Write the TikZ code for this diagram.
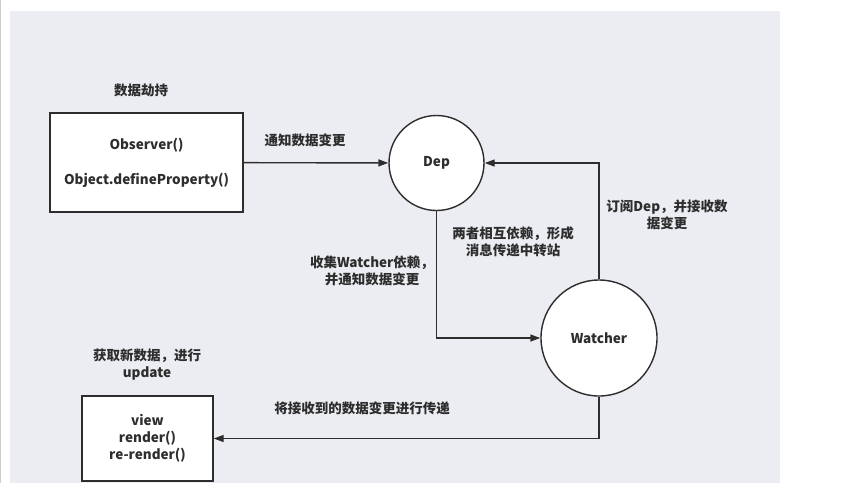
\documentclass[tikz,border=0pt]{standalone}
\usepackage{fontspec}
\usepackage{tikz}
\usetikzlibrary{arrows.meta}
\newfontfamily\cjk{Noto Sans CJK SC}
\definecolor{panelgray}{RGB}{236,237,242}
\definecolor{inkgray}{RGB}{45,45,45}
\tikzset{
    label text/.style={font=\cjk\bfseries\fontsize{13.5}{17}\selectfont, text=inkgray, align=center, inner sep=0pt},
    box/.style={draw=inkgray, line width=1.4pt, fill=white, rectangle, label text},
    bubble/.style={draw=inkgray, line width=1.4pt, fill=white, circle, label text},
    link/.style={draw=inkgray, line width=1.4pt, -{Triangle[length=10pt,width=7pt]}}
}

\begin{document}
\begin{tikzpicture}[x=1pt, y=-1pt]
    % Canvas and grey panel
    \useasboundingbox (0,0) rectangle (861,483);
    \fill[panelgray] (10,11) rectangle (780,483);
    \draw[gray!40, line width=1pt] (0.5,0) -- (0.5,483);

    % Boxes and circles
    \node[box, minimum width=193pt, minimum height=99pt] (Observer) at (146.5,162.5) {Observer()\\[18pt]Object.defineProperty()};
    \node[bubble, minimum size=95pt] (Dep) at (436.5,163) {Dep};
    \node[bubble, minimum size=116pt] (Watcher) at (599,338) {Watcher};
    \node[box, minimum width=131pt, minimum height=85pt] (View) at (147.5,438.5) {view\\render()\\re-render()};

    % Labels
    \node[label text] (Hijack) at (141,90) {数据劫持};
    \node[label text] (NotifyLabel) at (305,140) {通知数据变更};
    \node[label text] (SubscribeLabel) at (667,215) {订阅Dep，并接收数\\据变更};
    \node[label text] (CollectLabel) at (372,271) {收集Watcher依赖，\\并通知数据变更};
    \node[label text] (MutualLabel) at (513,241.5) {两者相互依赖，形成\\消息传递中转站};
    \node[label text] (UpdateLabel) at (147,365) {获取新数据，进行\\update};
    \node[label text] (PassLabel) at (362,408) {将接收到的数据变更进行传递};

    % Connectors
    \draw[link] (Observer) -- (Dep);
    \draw[link] (Watcher.north) |- (Dep.east);
    \draw[link] (Dep.south) |- (Watcher.west);
    \draw[link] (Watcher.south) |- (View.east);
\end{tikzpicture}
\end{document}
